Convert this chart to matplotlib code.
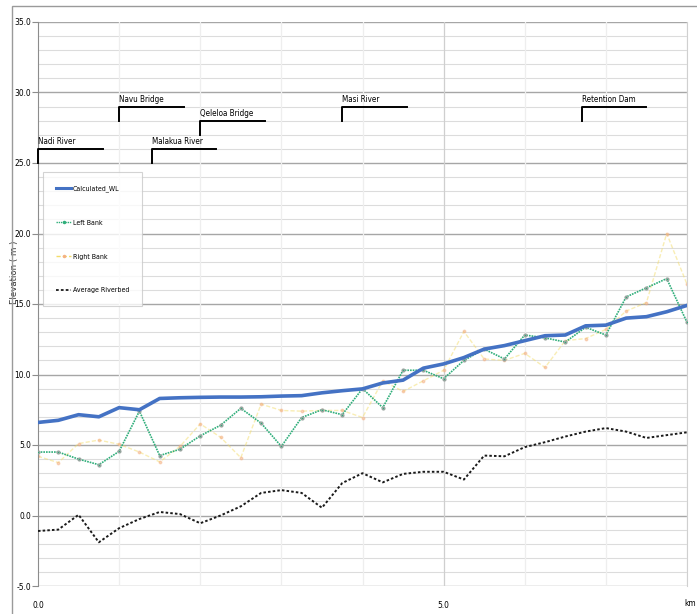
import matplotlib
matplotlib.use("Agg")
import matplotlib.pyplot as plt
from matplotlib import font_manager as fm
from matplotlib.lines import Line2D
from matplotlib.patches import Rectangle

# Longitudinal profile data (distance in km, elevation in m)
distance_km = [0.0, 0.25, 0.5, 0.75, 1.0, 1.25, 1.5, 1.75, 2.0, 2.25, 2.5,
               2.75, 3.0, 3.25, 3.5, 3.75, 4.0, 4.25, 4.5, 4.75, 5.0, 5.25,
               5.5, 5.75, 6.0, 6.25, 6.5, 6.75, 7.0, 7.25, 7.5, 7.75, 8.0]

calculated_wl = [6.6, 6.75, 7.15, 7.0, 7.65, 7.5, 8.3, 8.35, 8.38, 8.4, 8.4,
                 8.42, 8.47, 8.5, 8.7, 8.85, 8.98, 9.4, 9.6, 10.45, 10.75, 11.2,
                 11.8, 12.05, 12.4, 12.75, 12.8, 13.45, 13.5, 14.0, 14.1, 14.45, 14.9]

left_bank = [4.5, 4.5, 4.0, 3.6, 4.55, 7.4, 4.25, 4.7, 5.65, 6.4, 7.6,
             6.55, 4.9, 6.95, 7.5, 7.15, 9.0, 7.65, 10.3, 10.3, 9.7, 11.0,
             11.8, 11.1, 12.8, 12.6, 12.3, 13.35, 12.8, 15.5, 16.15, 16.8, 13.7]

right_bank = [4.2, 3.75, 5.1, 5.35, 5.05, 4.5, 3.8, 4.9, 6.5, 5.55, 4.1,
              7.9, 7.45, 7.4, 7.45, 7.45, 6.95, 9.55, 8.8, 9.55, 10.3, 13.05,
              11.1, 11.0, 11.5, 10.5, 12.4, 12.55, 13.2, 14.5, 15.1, 20.0, 16.4]

avg_riverbed = [-1.1, -1.0, 0.05, -1.9, -0.9, -0.25, 0.25, 0.1, -0.55, 0.0, 0.65,
                1.6, 1.8, 1.6, 0.55, 2.3, 3.0, 2.35, 2.95, 3.1, 3.1, 2.55,
                4.25, 4.2, 4.85, 5.2, 5.6, 5.95, 6.2, 5.95, 5.5, 5.7, 5.9]

# Structure markers along the reach: name, start km, base elevation
struct_names = ["Nadi River", "Navu Bridge", "Qeleloa Bridge", "Malakua River",
                "Masi River", "Retention Dam"]
struct_km = [0.0, 1.0, 2.0, 1.4, 3.75, 6.7]
struct_base = [25.0, 28.0, 27.0, 25.0, 28.0, 28.0]

y_ticks = [35.0, 30.0, 25.0, 20.0, 15.0, 10.0, 5.0, 0.0, -5.0]
x_ticks = [0.0, 5.0]


def narrow_font(size):
    """Pick a condensed/narrow face if one is installed, else a small regular one."""
    for f in fm.fontManager.ttflist:
        name = f.name.lower()
        stretch = str(f.stretch).lower()
        if ("narrow" in name or "condensed" in name or "condensed" in stretch) \
                and f.style == "normal" and f.weight in (400, "normal", "regular"):
            return fm.FontProperties(fname=f.fname, size=size)
    return fm.FontProperties(family="Liberation Sans", size=size * 0.78)


W, H = 697, 614
fig = plt.figure(figsize=(W / 100, H / 100), dpi=100)
fig.patch.set_facecolor("white")

# Outer chart border
fig.patches.append(Rectangle((12 / W, -0.05), 1.0, 1 - 6 / H + 0.05,
                             transform=fig.transFigure, fill=False,
                             edgecolor="#9a9a9a", linewidth=1.0))

ax = fig.add_axes([38 / W, 1 - 586 / H, (687 - 38) / W, (586 - 22) / H])
ax.set_xlim(0, 8.0)
ax.set_ylim(-5, 35)

# Grid: minor every 1 unit, major every 5
for v in range(-5, 36):
    major = (v % 5 == 0)
    ax.axhline(v, color="#a6a6a6" if major else "#dcdcdc",
               lw=1.0 if major else 0.8, zorder=0)
for v in range(1, 9):
    ax.axvline(v, color="#cfcfcf" if v == 5 else "#eeeeee",
               lw=0.9, zorder=0)

for s in ["top", "bottom"]:
    ax.spines[s].set_visible(False)
ax.spines["left"].set_color("#8c8c8c")
ax.spines["right"].set_color("#d0d0d0")

tick_fp = narrow_font(6.0)
ax.set_yticks(y_ticks)
ax.set_yticklabels([f"{t:.1f}" for t in y_ticks], fontproperties=tick_fp)
ax.set_xticks(x_ticks)
ax.set_xticklabels([f"{t:.1f}" for t in x_ticks], fontproperties=tick_fp)
ax.tick_params(axis="y", length=4, width=0.8, color="#8c8c8c", pad=1.0)
ax.tick_params(axis="x", length=0, pad=11)
ax.set_ylabel("Elevation ( m )", fontsize=6.2, color="#333333")
ax.yaxis.label.set_va("center")
ax.yaxis.set_label_coords(-23 / 649, 0.557)
fig.text(684 / W, 1 - 604 / H, "km", fontproperties=tick_fp,
         ha="left", va="center")

# Series
ax.plot(distance_km, right_bank, color="#f3dc6a", lw=1.0, ls=(0, (3, 1.5)),
        marker="o", ms=1.8, mfc="#f4b183", mec="#f4b183", alpha=0.5, zorder=2)
ax.plot(distance_km, left_bank, color="#2fae7a", lw=1.2, ls=(0, (1, 0.6)),
        marker="o", ms=2.0, mfc="#2fae7a", mec="#9aa5a0", zorder=3)
ax.plot(distance_km, avg_riverbed, color="#1a1a1a", lw=1.4, ls=(0, (1.3, 1.1)),
        zorder=3)
ax.plot(distance_km, calculated_wl, color="#4472c4", lw=2.6, zorder=4,
        solid_joinstyle="round")

# Structure markers
ann_fp = narrow_font(5.8)
for name, x0, yb in zip(struct_names, struct_km, struct_base):
    ax.plot([x0, x0, x0 + 0.8], [yb, yb + 1.0, yb + 1.0], color="black",
            lw=1.4, zorder=5, clip_on=False)
    ax.text(x0, yb + 1.2, name, fontproperties=ann_fp,
            ha="left", va="bottom", zorder=5)

# Legend
handles = [
    Line2D([], [], color="#4472c4", lw=2.2),
    Line2D([], [], color="#2fae7a", lw=1.0, ls=(0, (1, 0.6)),
           marker="o", ms=1.5, markevery=[1]),
    Line2D([], [], color="#f3dc6a", lw=1.0, ls=(0, (3, 1.5)),
           marker="o", ms=1.5, mfc="#f4b183", mec="#f4b183", markevery=[1]),
    Line2D([], [], color="#1a1a1a", lw=1.3, ls=(0, (1.5, 1.2))),
]
labels = ["Calculated_WL", "Left Bank", "Right Bank", "Average Riverbed"]
leg_fp = narrow_font(5.0)
leg = ax.legend(handles, labels, loc="upper left",
                bbox_to_anchor=(43 / W, 1 - 172 / H),
                bbox_transform=fig.transFigure, borderaxespad=0,
                prop=leg_fp, frameon=True,
                fancybox=False, handlelength=2.2, handletextpad=0.2,
                labelspacing=4.0, borderpad=1.9)
leg.get_frame().set_edgecolor("#c8c8c8")
leg.get_frame().set_linewidth(0.8)
leg.set_zorder(6)

fig.savefig("out.png", dpi=100, facecolor="white")
